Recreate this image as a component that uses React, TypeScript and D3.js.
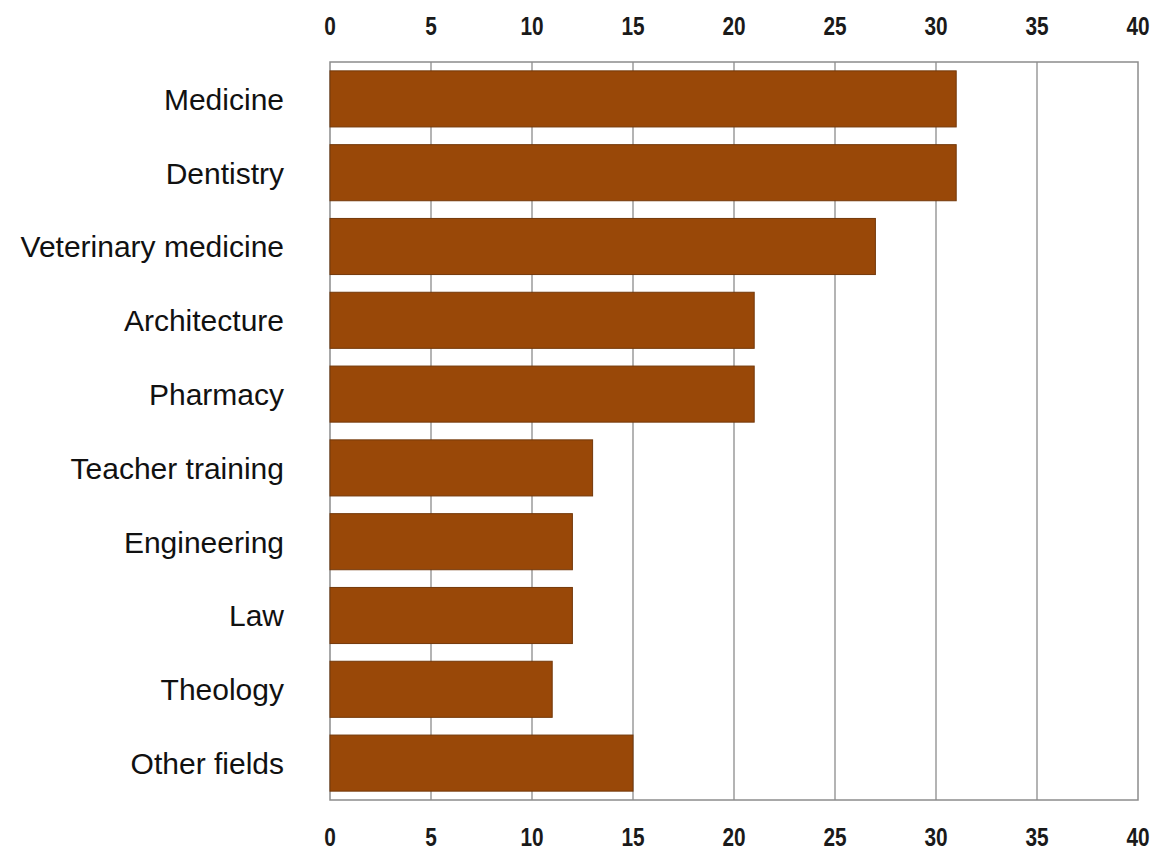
import * as d3 from 'd3';
import React, { useEffect, useRef } from 'react';

const categories = [
  'Medicine',
  'Dentistry',
  'Veterinary medicine',
  'Architecture',
  'Pharmacy',
  'Teacher training',
  'Engineering',
  'Law',
  'Theology',
  'Other fields',
];
const values = [31, 31, 27, 21, 21, 13, 12, 12, 11, 15];
const xTicks = [0, 5, 10, 15, 20, 25, 30, 35, 40];

const width = 1157;
const height = 853;
const margin = { top: 62, right: 18, bottom: 53, left: 330 };

function BarChart() {
  const node = useRef<SVGSVGElement | null>(null);

  useEffect(() => {
    const svg = d3.select(node.current);
    svg.selectAll('*').remove();

    const x = d3
      .scaleLinear()
      .domain([0, 40])
      .range([margin.left, width - margin.right - 1]);
    const y = d3
      .scaleBand()
      .domain(categories)
      .range([margin.top, height - margin.bottom])
      .paddingInner(0.24)
      .paddingOuter(0.12);

    const plotTop = margin.top;
    const plotBottom = height - margin.bottom;

    svg.append('rect').attr('width', width).attr('height', height).attr('fill', '#fff');

    // vertical grid lines
    svg
      .append('g')
      .selectAll('line')
      .data(xTicks.slice(1, -1))
      .enter()
      .append('line')
      .attr('x1', (d) => x(d))
      .attr('x2', (d) => x(d))
      .attr('y1', plotTop)
      .attr('y2', plotBottom)
      .attr('stroke', '#8c8c8c')
      .attr('stroke-width', 1.3);

    // frame
    svg
      .append('rect')
      .attr('x', x(0))
      .attr('y', plotTop)
      .attr('width', x(40) - x(0))
      .attr('height', plotBottom - plotTop)
      .attr('fill', 'none')
      .attr('stroke', '#8c8c8c')
      .attr('stroke-width', 1.5);

    // bars
    svg
      .append('g')
      .selectAll('rect')
      .data(values)
      .enter()
      .append('rect')
      .attr('x', x(0))
      .attr('y', (d, i) => y(categories[i]) as number)
      .attr('width', (d) => x(d) - x(0))
      .attr('height', y.bandwidth())
      .attr('fill', '#994808')
      .attr('stroke', '#73380a')
      .attr('stroke-width', 1);

    // category labels
    svg
      .append('g')
      .selectAll('text')
      .data(categories)
      .enter()
      .append('text')
      .attr('x', margin.left - 46)
      .attr('y', (d) => (y(d) as number) + y.bandwidth() / 2)
      .attr('dy', '0.36em')
      .attr('text-anchor', 'end')
      .attr('font-family', 'Liberation Sans, Arial, sans-serif')
      .attr('font-size', 30)
      .attr('fill', '#111')
      .text((d) => d);

    // top and bottom tick labels (narrow bold, squeezed horizontally)
    [plotTop - 27, plotBottom + 46].forEach((baseline) => {
      svg
        .append('g')
        .selectAll('text')
        .data(xTicks)
        .enter()
        .append('text')
        .attr('transform', (d) => `translate(${x(d)},${baseline}) scale(0.8,1)`)
        .attr('text-anchor', 'middle')
        .attr('font-family', 'Liberation Sans, Arial, sans-serif')
        .attr('font-weight', 'bold')
        .attr('font-size', 26)
        .attr('fill', '#1a1a1a')
        .text((d) => String(d));
    });
  }, []);

  return (
    <svg
      ref={node}
      width={width}
      height={height}
      style={{ position: 'absolute', left: 0, top: 0 }}
    />
  );
}

export default function App() {
  return <BarChart />;
}
